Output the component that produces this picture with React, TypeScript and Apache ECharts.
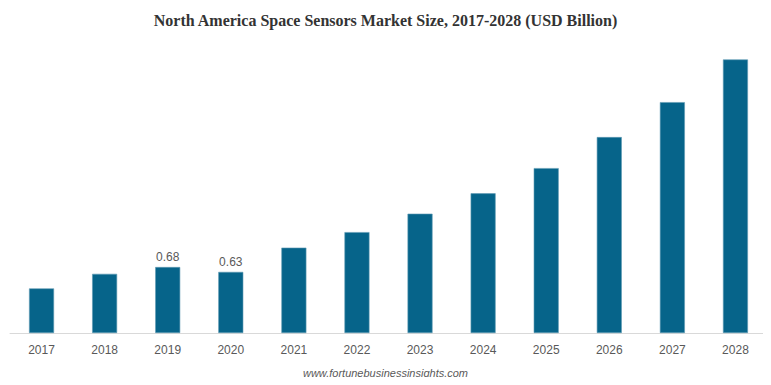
import React, { useEffect, useRef } from "react";
import * as echarts from "echarts";

const years = ["2017", "2018", "2019", "2020", "2021", "2022", "2023", "2024", "2025", "2026", "2027", "2028"];
const values = [0.46, 0.61, 0.68, 0.63, 0.88, 1.04, 1.23, 1.44, 1.7, 2.02, 2.38, 2.82];
const labeledYears = ["2019", "2020"];

export default function App() {
  const ref = useRef<HTMLDivElement>(null);
  useEffect(() => {
    const chart = echarts.init(ref.current!, undefined, { renderer: "svg" });
    chart.setOption({
      animation: false,
      backgroundColor: "#ffffff",
      title: {
        text: "North America Space Sensors Market Size, 2017-2028 (USD Billion)",
        left: "center",
        top: 7,
        textStyle: { fontFamily: "Liberation Serif", fontWeight: "bold", fontSize: 16, color: "#333333" },
      },
      graphic: [
        {
          type: "text",
          left: "center",
          top: 367,
          style: {
            text: "www.fortunebusinessinsights.com",
            font: "italic 11px 'Liberation Sans', Arial",
            fill: "#595959",
          },
        },
      ],
      grid: { left: 10, right: 4, top: 42, bottom: 52 },
      xAxis: {
        type: "category",
        data: years,
        axisLine: { lineStyle: { color: "#d9d9d9", width: 1 } },
        axisTick: { show: false },
        axisLabel: { color: "#595959", fontSize: 12, fontFamily: "Liberation Sans, Arial", margin: 11 },
      },
      yAxis: {
        type: "value",
        min: 0,
        max: 3,
        show: false,
        splitLine: { show: false },
      },
      series: [
        {
          type: "bar",
          data: values.map((v, i) => ({
            value: v,
            label: {
              show: labeledYears.includes(years[i]),
              position: "top",
              color: "#595959",
              fontSize: 12,
              fontFamily: "Liberation Sans, Arial",
              distance: 4,
            },
          })),
          barWidth: 25,
          itemStyle: { color: "#06648a", borderColor: "#5f9ab3", borderWidth: 0.6 },
        },
      ],
    });
    return () => chart.dispose();
  }, []);
  return <div ref={ref} style={{ width: 771, height: 385, margin: -8 }} />;
}
